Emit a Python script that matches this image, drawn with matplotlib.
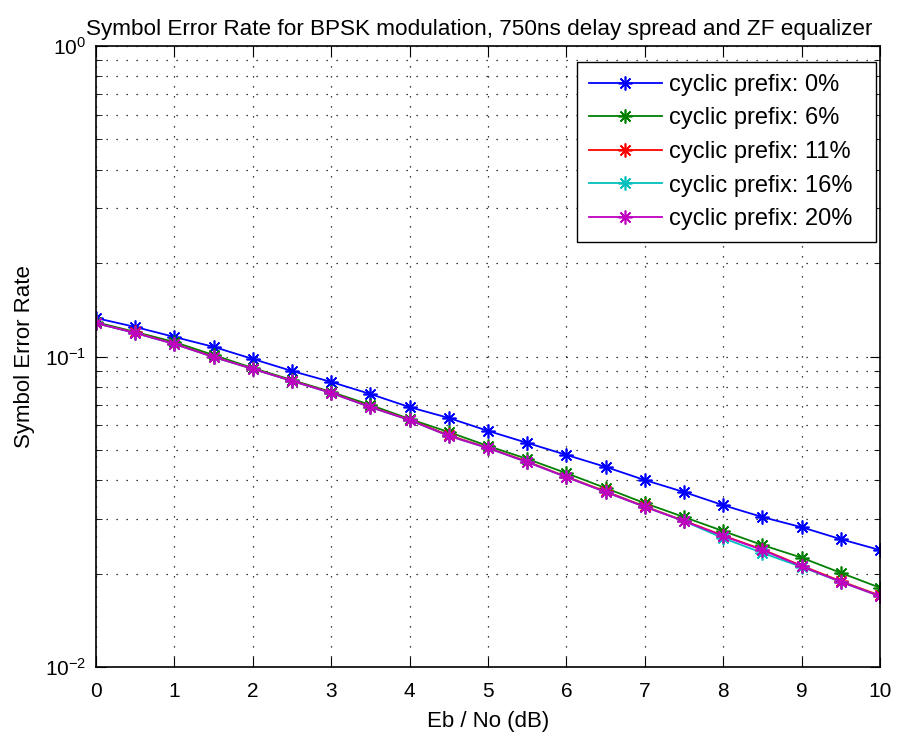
import matplotlib
matplotlib.use("Agg")
import matplotlib.pyplot as plt
from matplotlib.ticker import LogLocator, NullFormatter, FixedLocator

plt.rcParams['font.family'] = ['Liberation Sans Narrow', 'Liberation Sans', 'DejaVu Sans']
plt.rcParams['mathtext.fontset'] = 'custom'
plt.rcParams['mathtext.rm'] = 'Liberation Sans'
plt.rcParams['mathtext.it'] = 'Liberation Sans:italic'
plt.rcParams['mathtext.bf'] = 'Liberation Sans:bold'

# Eb/No grid (dB)
ebno_db = [0, 0.5, 1, 1.5, 2, 2.5, 3, 3.5, 4, 4.5, 5, 5.5, 6, 6.5, 7, 7.5, 8, 8.5, 9, 9.5, 10]

# Simulated symbol error rate for each cyclic prefix length
ser_cp0 = [0.133, 0.1245, 0.1156, 0.1074, 0.0982, 0.0898, 0.0828, 0.0757, 0.0687, 0.0634, 0.0576,
           0.0527, 0.0482, 0.0441, 0.0400, 0.0366, 0.0332, 0.0304, 0.0282, 0.0258, 0.0238]
ser_cp6 = [0.129, 0.120, 0.1113, 0.1011, 0.0918, 0.0840, 0.0769, 0.0698, 0.0629, 0.0571, 0.0515,
           0.0468, 0.0421, 0.0377, 0.0337, 0.0304, 0.0274, 0.0247, 0.0225, 0.0201, 0.0180]
ser_cp11 = [0.128, 0.1195, 0.1100, 0.0998, 0.0913, 0.0836, 0.0765, 0.0689, 0.0626, 0.0558, 0.0508,
            0.0459, 0.0410, 0.0368, 0.0329, 0.0296, 0.0265, 0.0239, 0.0212, 0.0189, 0.0170]
ser_cp16 = [0.128, 0.119, 0.1097, 0.0996, 0.0912, 0.0834, 0.0763, 0.0687, 0.0624, 0.0555, 0.0507,
            0.0457, 0.0409, 0.0366, 0.0328, 0.0295, 0.0260, 0.0233, 0.0210, 0.0188, 0.0169]
ser_cp20 = [0.128, 0.119, 0.1097, 0.0996, 0.0912, 0.0834, 0.0763, 0.0687, 0.0624, 0.0555, 0.0507,
            0.0457, 0.0409, 0.0366, 0.0328, 0.0295, 0.0264, 0.0238, 0.0211, 0.0188, 0.0169]

series = [
    ("cyclic prefix: 0%", ser_cp0, "#0000ff"),
    ("cyclic prefix: 6%", ser_cp6, "#008000"),
    ("cyclic prefix: 11%", ser_cp11, "#ff0000"),
    ("cyclic prefix: 16%", ser_cp16, "#00bfbf"),
    ("cyclic prefix: 20%", ser_cp20, "#bf00bf"),
]

x_ticks = [0, 1, 2, 3, 4, 5, 6, 7, 8, 9, 10]

W, H = 898, 734
fig = plt.figure(figsize=(W / 100, H / 100), dpi=100)
ax = fig.add_axes([96 / W, 1 - 667 / H, (880 - 96) / W, (667 - 46) / H])

# eight-spoke asterisk marker
asterisk = (8, 2, 0)
for label, ser, color in series:
    ax.semilogy(ebno_db, ser, color=color, marker=asterisk, markersize=10, lw=1.3,
                markeredgewidth=1.2, label=label)

ax.set_xlim(0, 10)
ax.set_ylim(1e-2, 1e0)
ax.xaxis.set_major_locator(FixedLocator(x_ticks))
ax.yaxis.set_major_locator(LogLocator(base=10, numticks=10))
ax.yaxis.set_minor_locator(LogLocator(base=10, subs=range(2, 10), numticks=20))
ax.yaxis.set_minor_formatter(NullFormatter())

dots = (0, (1, 7))
ax.grid(True, which='major', linestyle=dots, color='black', lw=0.9)
ax.grid(True, which='minor', axis='y', linestyle=dots, color='black', lw=0.9)

ax.tick_params(axis='both', which='both', direction='in', top=True, right=True, labelsize=15)
ax.tick_params(axis='x', which='major', length=7, pad=11)
ax.tick_params(axis='y', which='major', length=7, pad=7)
ax.tick_params(axis='y', which='minor', length=4)
for sp in ax.spines.values():
    sp.set_linewidth(1.2)

ax.set_title("Symbol Error Rate for BPSK modulation, 750ns delay spread and ZF equalizer",
             fontsize=16.2, pad=8, x=0.4885)
ax.set_xlabel("Eb / No (dB)", fontsize=16, labelpad=7)
ax.set_ylabel("Symbol Error Rate", fontsize=16, labelpad=7)

leg = ax.legend(loc='upper left', bbox_to_anchor=(577 / W, 1 - 238 / H, 299 / W, 176 / H),
                bbox_transform=fig.transFigure, borderaxespad=0, mode='expand',
                handlelength=3.1, handletextpad=0.3, borderpad=0.5, labelspacing=0.49,
                fancybox=False, framealpha=1, edgecolor='black',
                prop={'family': ['Liberation Sans', 'DejaVu Sans'], 'size': 17})
leg.get_frame().set_linewidth(1.0)

fig.savefig("out.png", dpi=100)
